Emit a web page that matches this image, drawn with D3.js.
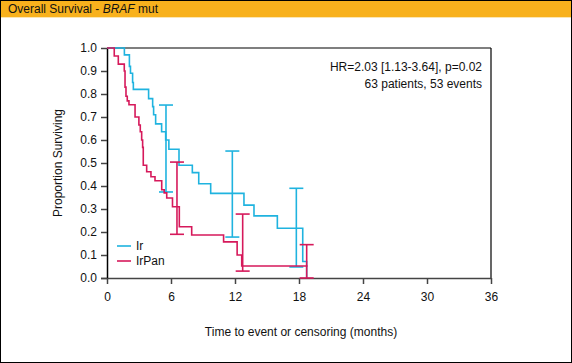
<!DOCTYPE html>
<html>
<head>
<meta charset="utf-8">
<script src="https://cdn.jsdelivr.net/npm/d3@7"></script>
<style>
body { margin: 0; background: #fff; }
svg text { font-family: "Liberation Sans", Arial, sans-serif; }
</style>
</head>
<body>
<script>
(function () {
    'use strict';

    // step curves: [months, proportion surviving]
    var irSteps = [
        [0, 1.0], [1.63, 0.97], [2.1, 0.92], [2.2, 0.89], [2.4, 0.85], [2.47, 0.82],
        [3.9, 0.78], [4.28, 0.745], [4.37, 0.71], [4.56, 0.67], [5.12, 0.636],
        [5.5, 0.6], [5.8, 0.56], [6.75, 0.49], [8.0, 0.458], [8.6, 0.41],
        [9.72, 0.368], [12.84, 0.317], [13.78, 0.27], [15.97, 0.216],
        [18.35, 0.072], [18.72, 0.0]
    ];
    var irPanSteps = [
        [0, 1.0], [0.68, 0.965], [1.06, 0.93], [1.62, 0.9], [1.69, 0.83],
        [1.78, 0.79], [1.9, 0.77], [2.06, 0.753], [2.63, 0.7], [2.99, 0.665],
        [3.12, 0.636], [3.25, 0.6], [3.34, 0.568], [3.4, 0.49], [3.72, 0.462],
        [4.12, 0.44], [4.5, 0.423], [5.13, 0.384], [5.36, 0.37], [5.6, 0.348],
        [6.14, 0.31], [6.78, 0.223], [7.94, 0.187], [10.93, 0.157],
        [12.2, 0.1], [12.63, 0.052], [18.8, 0.052]
    ];
    // confidence bars: [months, lower, upper]
    var irCI = [[5.53, 0.374, 0.752], [11.75, 0.178, 0.552], [17.75, 0.048, 0.39]];
    var irPanCI = [[6.56, 0.19, 0.504], [12.72, 0.03, 0.278], [18.72, 0.0, 0.145]];

    var xTicks = [0, 6, 12, 18, 24, 30, 36];
    var yTicks = [0, 0.1, 0.2, 0.3, 0.4, 0.5, 0.6, 0.7, 0.8, 0.9, 1.0];

    var series = [
        { name: 'Ir', steps: irSteps, ci: irCI, color: '#1fb3df' },
        { name: 'IrPan', steps: irPanSteps, ci: irPanCI, color: '#d6195b' }
    ];

    var W = 572, H = 363;
    var svg = d3.select('body')
        .append('svg')
        .attr('width', W)
        .attr('height', H);

    // header band
    svg.append('rect')
        .attr('x', 0).attr('y', 0)
        .attr('width', W).attr('height', 17)
        .attr('fill', '#f8b11d');
    svg.append('rect')
        .attr('x', 0).attr('y', 17)
        .attr('width', W).attr('height', 1)
        .attr('fill', '#fbe6b4');
    var title = svg.append('text')
        .attr('x', 8).attr('y', 13)
        .attr('font-size', 12)
        .attr('fill', '#111');
    title.append('tspan').text('Overall Survival - ');
    title.append('tspan').attr('font-style', 'italic').text('BRAF');
    title.append('tspan').text(' mut');

    // outer frame
    svg.append('rect')
        .attr('x', 0.5).attr('y', 0.5)
        .attr('width', W - 1).attr('height', H - 1)
        .attr('fill', 'none')
        .attr('stroke', '#000');

    var x = d3.scaleLinear().domain([0, 36]).range([107, 491]);
    var y = d3.scaleLinear().domain([0, 1]).range([278, 48]);

    // frame lines of plot
    svg.append('line')
        .attr('x1', x(0)).attr('x2', x(36))
        .attr('y1', y(1)).attr('y2', y(1))
        .attr('stroke', '#555').attr('stroke-width', 1.5);
    svg.append('line')
        .attr('x1', x(36)).attr('x2', x(36))
        .attr('y1', y(1)).attr('y2', y(0))
        .attr('stroke', '#000').attr('stroke-width', 1.2);

    var xAxis = svg.append('g')
        .attr('transform', 'translate(0,' + y(0) + ')')
        .call(d3.axisBottom(x).tickValues(xTicks).tickSize(6).tickPadding(8)
            .tickFormat(d3.format('d')));
    xAxis.select('.domain').attr('stroke', '#444').attr('stroke-width', 1.5)
        .attr('d', 'M' + (x(0) - 6) + ',0.5H' + x(36));
    xAxis.selectAll('.tick line').attr('stroke', '#444').attr('stroke-width', 1.5);
    xAxis.selectAll('text').attr('font-size', 12).attr('fill', '#111')
        .style('font-family', '"Liberation Sans", Arial, sans-serif');

    var yAxis = svg.append('g')
        .attr('transform', 'translate(' + x(0) + ',0)')
        .call(d3.axisLeft(y).tickValues(yTicks).tickSize(6).tickPadding(4)
            .tickFormat(d3.format('.1f')));
    yAxis.select('.domain').attr('stroke', '#000').attr('stroke-width', 1.5)
        .attr('d', 'M0.5,' + y(1) + 'V' + y(0));
    yAxis.selectAll('.tick line').attr('stroke', '#444').attr('stroke-width', 1.5);
    yAxis.selectAll('text').attr('font-size', 12).attr('fill', '#111')
        .style('font-family', '"Liberation Sans", Arial, sans-serif');

    svg.append('text')
        .attr('x', 301).attr('y', 336)
        .attr('text-anchor', 'middle')
        .attr('font-size', 12)
        .attr('fill', '#111')
        .text('Time to event or censoring (months)');
    svg.append('text')
        .attr('transform', 'translate(62,' + y(0.5) + ') rotate(-90)')
        .attr('text-anchor', 'middle')
        .attr('font-size', 12)
        .attr('fill', '#111')
        .text('Proportion Surviving');

    var stepLine = d3.line()
        .x(function (d) { return x(d[0]); })
        .y(function (d) { return y(d[1]); })
        .curve(d3.curveStepAfter);

    series.forEach(function (s) {
        svg.append('path')
            .datum(s.steps)
            .attr('d', stepLine)
            .attr('fill', 'none')
            .attr('stroke', s.color)
            .attr('stroke-width', 1.6);

        var g = svg.append('g')
            .attr('stroke', s.color)
            .attr('stroke-width', 1.6);
        g.selectAll('line.v')
            .data(s.ci)
            .enter()
            .append('line')
            .attr('x1', function (d) { return x(d[0]); })
            .attr('x2', function (d) { return x(d[0]); })
            .attr('y1', function (d) { return y(d[1]); })
            .attr('y2', function (d) { return y(d[2]); });
        [1, 2].forEach(function (k) {
            g.selectAll('line.c' + k)
                .data(s.ci)
                .enter()
                .append('line')
                .attr('x1', function (d) { return x(d[0]) - 7; })
                .attr('x2', function (d) { return x(d[0]) + 7; })
                .attr('y1', function (d) { return y(d[k]); })
                .attr('y2', function (d) { return y(d[k]); });
        });
    });

    // legend
    var legend = svg.append('g');
    series.forEach(function (s, i) {
        var ly = 246 + i * 15;
        legend.append('line')
            .attr('x1', 117).attr('x2', 131)
            .attr('y1', ly).attr('y2', ly)
            .attr('stroke', s.color)
            .attr('stroke-width', 1.6);
        legend.append('text')
            .attr('x', 136).attr('y', ly + 4)
            .attr('font-size', 12)
            .attr('fill', '#111')
            .text(s.name);
    });

    svg.append('text')
        .attr('x', 482).attr('y', 71)
        .attr('text-anchor', 'end')
        .attr('font-size', 12)
        .attr('fill', '#111')
        .text('HR=2.03 [1.13-3.64], p=0.02');
    svg.append('text')
        .attr('x', 482).attr('y', 88)
        .attr('text-anchor', 'end')
        .attr('font-size', 12)
        .attr('fill', '#111')
        .text('63 patients, 53 events');
}());
</script>
</body>
</html>
